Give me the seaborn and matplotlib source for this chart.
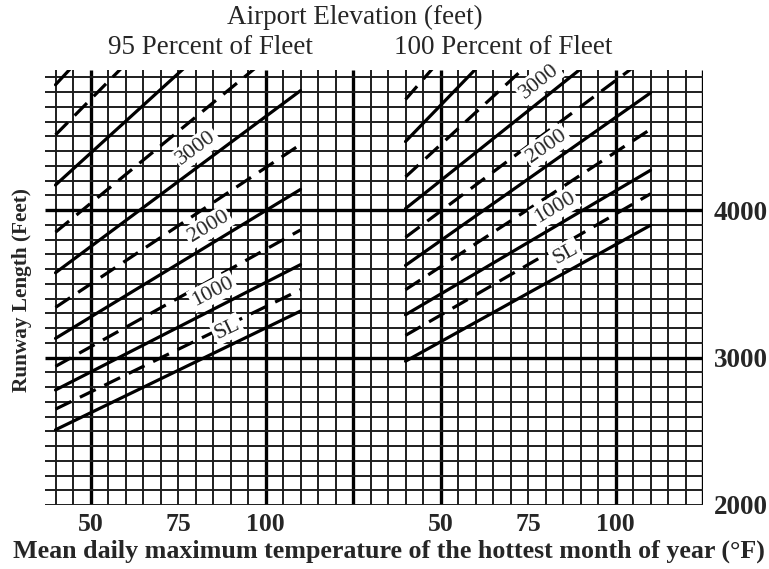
import numpy as np
import pandas as pd
import matplotlib
matplotlib.use('Agg')
import matplotlib.pyplot as plt
import seaborn as sns

# curve elevations (ft): solid every 1000 ft, dashed in between
elevations = [0, 500, 1000, 1500, 2000, 2500, 3000, 3500, 4000, 4500, 5000]
temp_start = 40
temp_end = 110

# 95 percent of fleet, runway length (ft) at 40F and 110F
fleet95_at_40 = [2510, 2650, 2780, 2940, 3130, 3340, 3575, 3850, 4170, 4510, 4850]
fleet95_at_110 = [3315, 3460, 3630, 3865, 4140, 4445, 4810, 5215, 5680, 6190, 6640]

# 100 percent of fleet
fleet100_at_40 = [2975, 3150, 3290, 3460, 3625, 3815, 4010, 4225, 4465, 4750]
fleet100_at_110 = [3897, 4110, 4270, 4548, 4795, 5055, 5335, 5750, 6180, 6650]

curve_labels = ['SL', '1000', '2000', '3000']
curve_label_elev = [0, 1000, 2000, 3000]
label_temp_95 = [91, 87, 86, 83]
label_temp_100 = [88, 85, 83, 81]

temp_ticks = [50, 75, 100]
length_ticks = [2000, 3000, 4000]

panel_shift = 100  # second chart drawn right of the first one

rows = []
for name, shift, l40, l110 in [('95', 0, fleet95_at_40, fleet95_at_110),
                               ('100', panel_shift, fleet100_at_40, fleet100_at_110)]:
    for e, a, b in zip(elevations, l40, l110):
        kind = 'solid' if e % 1000 == 0 else 'dashed'
        rows.append({'line': name + '_' + str(e), 'kind': kind, 'temp': temp_start + shift, 'length': a})
        rows.append({'line': name + '_' + str(e), 'kind': kind, 'temp': temp_end + shift, 'length': b})
df = pd.DataFrame(rows)

sns.set_style('white')
plt.rcParams['font.family'] = ['Liberation Serif', 'DejaVu Serif']

fig = plt.figure(figsize=(7.69, 5.69), dpi=100)
ax = fig.add_axes([45 / 769, 64 / 569, 658 / 769, 435 / 569])
ax.set_xlim(37, 225)
ax.set_ylim(2000, 4950)

# graph paper
heavy_x = [50, 100, 125, 150, 200, 225]
for x in range(40, 226, 5):
    if x in heavy_x:
        ax.vlines(x, 2000, 4950, color='black', lw=2.4, zorder=1)
    else:
        ax.vlines(x, 2000, 4950, color='#1e1e1e', lw=1.4, zorder=1)
for y in range(2000, 4901, 100):
    if y in (3000, 4000):
        ax.hlines(y, 37, 225, color='black', lw=2.4, zorder=1)
    else:
        ax.hlines(y, 37, 225, color='#1e1e1e', lw=1.4, zorder=1)

sns.lineplot(data=df, x='temp', y='length', units='line', estimator=None,
             style='kind', dashes={'solid': '', 'dashed': (5.5, 3)},
             color='black', lw=2.3, legend=False, ax=ax, zorder=3)

# curve labels
fig.canvas.draw()
def on_curve(t, l40, l110):
    return l40 + (l110 - l40) * (t - temp_start) / (temp_end - temp_start)

for lab, el, t95, t100 in zip(curve_labels, curve_label_elev, label_temp_95, label_temp_100):
    i = elevations.index(el)
    for t, shift, l40, l110 in [(t95, 0, fleet95_at_40[i], fleet95_at_110[i]),
                                (t100, panel_shift, fleet100_at_40[i], fleet100_at_110[i])]:
        p0 = ax.transData.transform((temp_start + shift, l40))
        p1 = ax.transData.transform((temp_end + shift, l110))
        ang = np.degrees(np.arctan2(p1[1] - p0[1], p1[0] - p0[0]))
        off = 11.5
        dx = -off * np.sin(np.radians(ang))
        dy = off * np.cos(np.radians(ang))
        ax.annotate(lab, xy=(t + shift, on_curve(t, l40, l110)), xytext=(dx, dy),
                    textcoords='offset points', rotation=ang, rotation_mode='anchor',
                    ha='center', va='center', fontsize=16, zorder=4,
                    bbox=dict(boxstyle='square,pad=0.1', fc='white', ec='none'))

ax.set_xticks(temp_ticks + [t + panel_shift for t in temp_ticks])
ax.set_xticklabels([str(t) for t in temp_ticks] * 2, fontsize=18.5, fontweight='bold')
ax.yaxis.tick_right()
ax.set_yticks(length_ticks)
ax.set_yticklabels([str(v) for v in length_ticks], fontsize=19.5, fontweight='bold')
ax.tick_params(axis='x', length=0, pad=6)
ax.tick_params(axis='y', length=0, pad=8)
for s in ax.spines.values():
    s.set_visible(False)
ax.set_xlabel('')
ax.set_ylabel('')

fig.text(355 / 769, 1 - 17 / 569, 'Airport Elevation (feet)', ha='center', va='center', fontsize=19.5)
fig.text(210 / 769, 1 - 47 / 569, '95 Percent of Fleet', ha='center', va='center', fontsize=19.5)
fig.text(503 / 769, 1 - 47 / 569, '100 Percent of Fleet', ha='center', va='center', fontsize=19.5)
fig.text(22 / 769, 1 - 290 / 569, 'Runway Length (Feet)', rotation=90, ha='center', va='center',
         fontsize=15.3, fontweight='bold')
fig.text(389 / 769, 1 - 551 / 569, 'Mean daily maximum temperature of the hottest month of year (\u00b0F)',
         ha='center', va='center', fontsize=18.7, fontweight='bold')

fig.savefig('out.png', dpi=100)
